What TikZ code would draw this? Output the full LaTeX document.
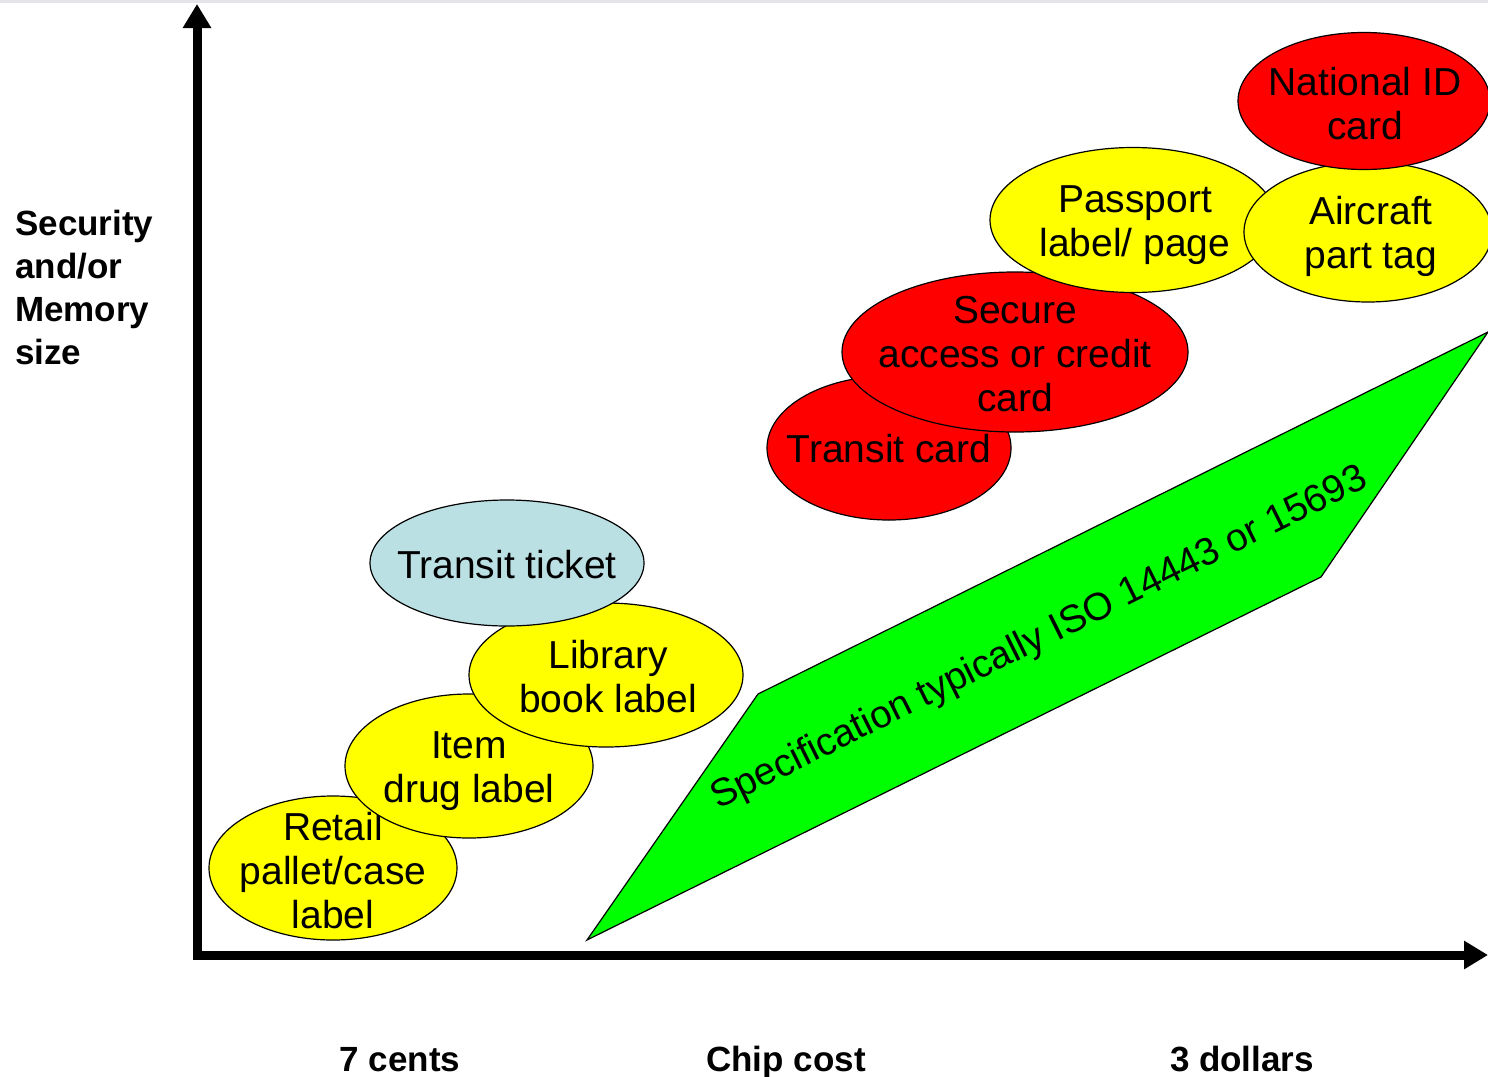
\documentclass[tikz,border=0pt]{standalone}
\usepackage{fontspec}
\setmainfont{Liberation Sans}
\usetikzlibrary{arrows.meta,shapes.geometric}
\definecolor{tagyellow}{RGB}{255,255,0}
\definecolor{cardred}{RGB}{255,0,0}
\definecolor{specgreen}{RGB}{0,255,0}
\definecolor{ticketblue}{RGB}{187,224,227}
\definecolor{topband}{RGB}{228,228,234}

\begin{document}
\begin{tikzpicture}[x=1pt,y=-1pt,
  blob/.style={ellipse, draw=black, line width=1.2pt, inner sep=0pt},
  blobtext/.style={align=center, inner sep=0pt, font=\fontsize{39}{44}\selectfont},
  axislabel/.style={font=\fontsize{35}{43}\selectfont\bfseries, inner sep=0pt},
  axisline/.style={line width=9pt,
    arrows={Triangle[length=24pt,width=27pt]-Triangle[length=24pt,width=27pt]}}
]
\useasboundingbox (0,0) rectangle (1488,1076);
\fill[topband] (0,0) rectangle (1488,3);

% axes
\coordinate (ytop) at (197,4);
\coordinate (origin) at (197,955);
\coordinate (xend) at (1488,955);
\draw[axisline] (ytop) -- (origin) -- (xend);

% axis labels
\node[axislabel, align=left, anchor=north west] (ylab) at (15,210)
  {Security\\and/or\\Memory\\size};
\node[axislabel, anchor=base] (xlow) at (400,1071) {7 cents};
\node[axislabel, anchor=base] (xmid) at (786,1071) {Chip cost};
\node[axislabel, anchor=base] (xhigh) at (1242,1071) {3 dollars};

% specification band
\coordinate (s1) at (587,940);
\coordinate (s2) at (758,694);
\coordinate (s3) at (1488,332);
\coordinate (s4) at (1321,577);
\draw[fill=specgreen, line width=1.2pt, line join=miter] (s1) -- (s2) -- (s3) -- (s4) -- cycle;
\node[inner sep=0pt, anchor=base, rotate=26.4, font=\fontsize{38.7}{44}\selectfont]
  (spec) at (1044,648) {Specification typically ISO 14443 or 15693};

% low-cost tags
\node[blob, fill=tagyellow, minimum width=248pt, minimum height=144pt] (retail) at (333,868) {};
\node[blobtext] (retail-t) at (333,871) {Retail\\pallet/case\\label};
\node[blob, fill=tagyellow, minimum width=248pt, minimum height=144pt] (item) at (469,766) {};
\node[blobtext] (item-t) at (469,771) {Item\\drug label};
\node[blob, fill=tagyellow, minimum width=274pt, minimum height=144pt] (library) at (606,675) {};
\node[blobtext] (library-t) at (608,677) {Library\\book label};
\node[blob, fill=ticketblue, minimum width=274pt, minimum height=126pt] (ticket) at (507,563) {};
\node[blobtext] (ticket-t) at (507,565) {Transit ticket};

% cards
\node[blob, fill=cardred, minimum width=244pt, minimum height=144pt] (tcard) at (889,448) {};
\node[blobtext] (tcard-t) at (889,449) {Transit card};
\node[blob, fill=cardred, minimum width=346pt, minimum height=160pt] (secure) at (1015,352) {};
\node[blobtext] (secure-t) at (1015,354) {Secure\\access or credit\\card};

% high-end tags
\node[blob, fill=tagyellow, minimum width=286pt, minimum height=145pt] (passport) at (1133,220) {};
\node[blobtext] (passport-t) at (1135,225) {Passport\\label/ page};
\node[blob, fill=tagyellow, minimum width=248pt, minimum height=140pt] (aircraft) at (1368,232) {};
\node[blobtext] (aircraft-t) at (1371,236) {Aircraft\\part tag};
\node[blob, fill=cardred, minimum width=252pt, minimum height=137pt] (natid) at (1364,101) {};
\node[blobtext] (natid-t) at (1365,104) {National ID\\card};
\end{tikzpicture}
\end{document}
